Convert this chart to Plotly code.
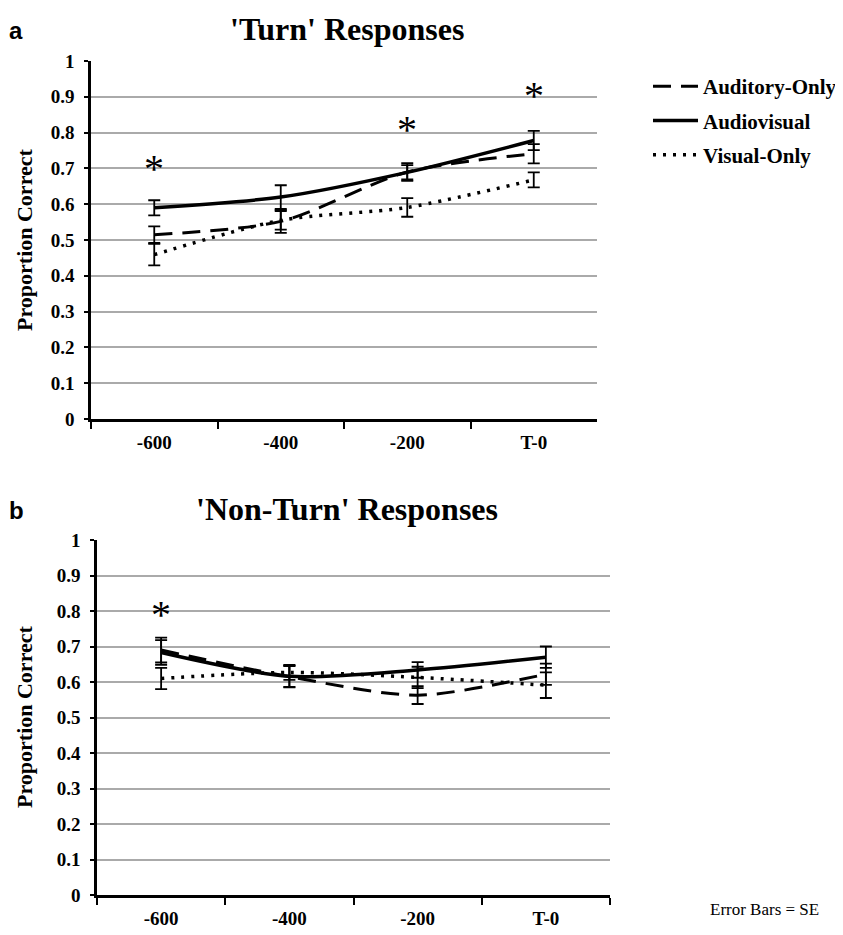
import plotly.graph_objects as go

categories = ["-600", "-400", "-200", "T-0"]

# Panel a: 'Turn' responses
turn_ao = [0.515, 0.552, 0.690, 0.741]
turn_ao_se = [0.023, 0.032, 0.025, 0.027]
turn_av = [0.590, 0.620, 0.689, 0.778]
turn_av_se = [0.021, 0.033, 0.020, 0.027]
turn_vo = [0.459, 0.555, 0.591, 0.668]
turn_vo_se = [0.030, 0.026, 0.026, 0.021]
turn_sig = ["-600", "-200", "T-0"]
turn_sig_y = [0.70, 0.81, 0.905]

# Panel b: 'Non-Turn' responses
non_ao = [0.690, 0.615, 0.563, 0.622]
non_ao_se = [0.035, 0.030, 0.025, 0.030]
non_av = [0.683, 0.616, 0.634, 0.670]
non_av_se = [0.035, 0.030, 0.022, 0.030]
non_vo = [0.610, 0.627, 0.613, 0.591]
non_vo_se = [0.030, 0.021, 0.030, 0.036]
non_sig = ["-600"]
non_sig_y = [0.79]

series_names = ["Auditory-Only", "Audiovisual", "Visual-Only"]

SERIF = "Liberation Serif"
styles = {
    "Auditory-Only": dict(color="black", width=3, dash="18px,10px"),
    "Audiovisual": dict(color="black", width=3.5, dash="solid"),
    "Visual-Only": dict(color="black", width=3.5, dash="3px,7px"),
}

fig = go.Figure()

def add_panel(vals, ses, xa, ya, show):
    for name, v, se in zip(series_names, vals, ses):
        fig.add_trace(go.Scatter(
            x=categories, y=v, name=name, xaxis=xa, yaxis=ya,
            mode="lines",
            line=dict(shape="spline", smoothing=0.8, **styles[name]),
            error_y=dict(type="data", array=se, color="black", thickness=1.8, width=6),
            showlegend=show, legendgroup=name,
        ))

add_panel([turn_ao, turn_av, turn_vo], [turn_ao_se, turn_av_se, turn_vo_se], "x", "y", True)
add_panel([non_ao, non_av, non_vo], [non_ao_se, non_av_se, non_vo_se], "x2", "y2", False)

for c, yv in zip(turn_sig, turn_sig_y):
    fig.add_annotation(x=categories.index(c), y=yv, xref="x", yref="y", text="*", showarrow=False,
                       xanchor="center", yanchor="middle",
                       font=dict(family=SERIF, size=40, color="black"))
for c, yv in zip(non_sig, non_sig_y):
    fig.add_annotation(x=categories.index(c), y=yv, xref="x2", yref="y2", text="*", showarrow=False,
                       xanchor="center", yanchor="middle",
                       font=dict(family=SERIF, size=40, color="black"))

W, H = 843, 935
OX, OY = 8, 8  # page offset of the figure in the browser
def px(x):
    return (x - OX) / W
def py(y):
    return 1 - (y - OY) / H

yaxis_common = dict(range=[0, 1], dtick=0.1, showgrid=True, gridcolor="#aaaaaa", gridwidth=1.5,
                    showline=True, linecolor="black", linewidth=2.5, ticks="outside", ticklen=4,
                    tickcolor="black", tickwidth=2, zeroline=False, ticklabelstandoff=6,
                    tickfont=dict(family=SERIF, size=19, color="black", weight="bold"))
xaxis_common = dict(type="category", range=[-0.5, 3.5], showgrid=False, showline=True,
                    linecolor="black", linewidth=3, ticks="outside", ticklen=7, tickwidth=2,
                    tickcolor="black", tickson="boundaries", ticklabelstandoff=4,
                    tickfont=dict(family=SERIF, size=19, color="black", weight="bold"))

fig.update_layout(
    width=W, height=H,
    margin=dict(l=0, r=0, t=0, b=0, autoexpand=False),
    paper_bgcolor="white", plot_bgcolor="white",
    xaxis=dict(domain=[px(91), px(597)], anchor="y", **xaxis_common),
    yaxis=dict(domain=[py(419), py(61)], anchor="x", **yaxis_common),
    xaxis2=dict(domain=[px(97), px(610)], anchor="y2", **xaxis_common),
    yaxis2=dict(domain=[py(895), py(540)], anchor="x2", **yaxis_common),
    legend=dict(x=px(648), y=py(66), xanchor="left", yanchor="top",
                font=dict(family=SERIF, size=21, color="black", weight="bold"),
                tracegroupgap=4, itemwidth=45, bgcolor="rgba(0,0,0,0)"),
    showlegend=True,
)

def note(x, y, text, size, family=SERIF, bold=True, angle=0):
    fig.add_annotation(x=px(x), y=py(y), xref="paper", yref="paper", text=text,
                       xanchor="center", yanchor="middle", textangle=angle, showarrow=False,
                       font=dict(family=family, size=size, color="black",
                                 weight="bold" if bold else "normal"))

note(347, 29, "'Turn' Responses", 32)
note(347, 509, "'Non-Turn' Responses", 32)
note(16, 30, "a", 24, family="Liberation Sans")
note(16, 510, "b", 24, family="Liberation Sans")
note(24, 240, "Proportion Correct", 22, angle=-90)
note(24, 717, "Proportion Correct", 22, angle=-90)
note(764, 909, "Error Bars = SE", 17, bold=False)

fig.write_html("out.html")
